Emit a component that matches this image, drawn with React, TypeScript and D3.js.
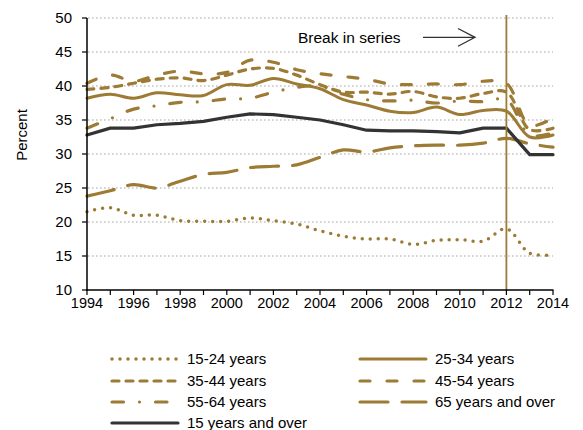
import React from 'react';
import * as d3 from 'd3';

const years = [1994, 1995, 1996, 1997, 1998, 1999, 2000, 2001, 2002, 2003, 2004, 2005, 2006, 2007, 2008, 2009, 2010, 2011, 2012, 2013, 2014];
const s15_24 = [21.5, 22.1, 21.0, 21.0, 20.2, 20.1, 20.1, 20.6, 20.2, 19.7, 18.7, 17.9, 17.5, 17.5, 16.7, 17.3, 17.4, 17.2, 19.0, 15.4, 15.2];
const s25_34 = [38.2, 38.8, 38.2, 39.0, 38.7, 38.6, 40.2, 40.1, 41.1, 40.3, 39.6, 38.0, 37.2, 36.3, 36.1, 36.9, 35.8, 36.4, 36.3, 32.5, 32.8];
const s35_44 = [39.5, 39.8, 40.4, 41.0, 41.2, 40.8, 41.6, 42.5, 42.6, 41.6, 40.2, 39.1, 39.1, 38.8, 39.2, 38.4, 38.2, 38.9, 39.1, 33.6, 33.8];
const s45_54 = [40.4, 41.6, 40.7, 41.6, 42.2, 41.8, 42.0, 43.8, 43.5, 42.4, 41.8, 41.4, 41.0, 40.3, 40.2, 40.3, 40.2, 40.7, 40.4, 34.2, 35.3];
const s55_64 = [33.8, 35.2, 36.6, 37.1, 37.6, 37.7, 38.1, 38.2, 39.1, 39.8, 40.0, 38.8, 38.0, 37.8, 37.9, 37.5, 37.8, 37.7, 38.0, 32.8, 33.1];
const s65plus = [23.8, 24.6, 25.5, 25.0, 26.0, 27.0, 27.3, 28.0, 28.2, 28.4, 29.5, 30.6, 30.3, 30.9, 31.2, 31.3, 31.3, 31.6, 32.3, 31.5, 31.0];
const s15plus = [32.8, 33.8, 33.8, 34.3, 34.5, 34.8, 35.4, 35.9, 35.8, 35.4, 35.0, 34.3, 33.5, 33.4, 33.4, 33.3, 33.1, 33.8, 33.8, 29.9, 29.9];

const yTicks = [10, 15, 20, 25, 30, 35, 40, 45, 50];
const xLabels = [1994, 1996, 1998, 2000, 2002, 2004, 2006, 2008, 2010, 2012, 2014];
const breakYear = 2012;

const GOLD = '#9E7B35';
const DARK = '#333333';

type S = { name: string; values: number[]; color: string; dash: string; width: number; smooth: boolean };
const series: S[] = [
  { name: '15-24 years', values: s15_24, color: GOLD, dash: '0 8', width: 3.5, smooth: true },
  { name: '25-34 years', values: s25_34, color: GOLD, dash: '', width: 3, smooth: true },
  { name: '35-44 years', values: s35_44, color: GOLD, dash: '7 7', width: 3.2, smooth: true },
  { name: '45-54 years', values: s45_54, color: GOLD, dash: '10 17', width: 3.2, smooth: true },
  { name: '55-64 years', values: s55_64, color: GOLD, dash: '11.5 16 0 16', width: 3.2, smooth: true },
  { name: '65 years and over', values: s65plus, color: GOLD, dash: '28 14', width: 3.2, smooth: true },
  { name: '15 years and over', values: s15plus, color: DARK, dash: '', width: 3.2, smooth: false },
];

const FONT = 'Liberation Sans, Arial, sans-serif';

export default function App() {
  const x = d3.scaleLinear().domain([1994, 2014]).range([87, 553]);
  const y = d3.scaleLinear().domain([10, 50]).range([290, 18]);
  const allYears = d3.range(1994, 2015);

  const legendPos = [
    [112, 359], [360, 359],
    [112, 381], [360, 381],
    [112, 402], [360, 402],
    [112, 423],
  ];

  return (
    <svg width={583} height={430} style={{ position: 'absolute', left: 0, top: 0, background: '#fff' }} fontFamily={FONT}>
      {/* gridlines */}
      {yTicks.filter(t => t > 10).map(t => (
        <line key={t} x1={88} x2={553} y1={y(t)} y2={y(t)} stroke="#A6A6A6" strokeWidth={1.2} strokeDasharray="1.6 2.4" />
      ))}
      {/* series */}
      {series.map(s => {
        const line = d3.line<number>()
          .x((_, i) => x(years[i]))
          .y(v => y(v))
          .curve(s.smooth ? d3.curveCatmullRom.alpha(0.5) : d3.curveLinear);
        return (
          <path key={s.name} d={line(s.values) || ''} fill="none" stroke={s.color} strokeWidth={s.width}
            strokeDasharray={s.dash || undefined} strokeLinecap="round" strokeLinejoin="round" />
        );
      })}
      {/* break line */}
      <line x1={x(breakYear)} x2={x(breakYear)} y1={15} y2={290} stroke={GOLD} strokeWidth={1.8} />
      {/* axes */}
      <line x1={87} x2={87} y1={18} y2={291} stroke="#000" strokeWidth={1.5} />
      <line x1={86} x2={553.5} y1={290} y2={290} stroke="#000" strokeWidth={1.5} />
      {yTicks.map(t => (
        <g key={t}>
          <line x1={82} x2={87} y1={y(t)} y2={y(t)} stroke="#000" strokeWidth={1.2} />
          <text x={72} y={y(t)} dy="0.36em" textAnchor="end" fontSize={15} fill="#000">{t}</text>
        </g>
      ))}
      {allYears.map(yr => (
        <line key={yr} x1={x(yr)} x2={x(yr)} y1={290} y2={295} stroke="#000" strokeWidth={1.2} />
      ))}
      {xLabels.map(yr => (
        <text key={yr} x={x(yr)} y={308} textAnchor="middle" fontSize={14.5} fill="#000">{yr}</text>
      ))}
      <text transform="translate(27,135) rotate(-90)" textAnchor="middle" fontSize={15} fill="#000">Percent</text>
      {/* annotation */}
      <text x={298} y={43} fontSize={15.5} fill="#000">Break in series</text>
      <g stroke={DARK} strokeWidth={1.3} fill="none">
        <line x1={423} x2={475} y1={37.3} y2={37.3} />
        <polyline points="458,28.5 475,37.3 458,46.3" />
      </g>
      {/* legend */}
      {series.map((s, i) => {
        const [lx, ly] = legendPos[i];
        return (
          <g key={s.name}>
            <line x1={lx} x2={lx + 66} y1={ly} y2={ly} stroke={s.color} strokeWidth={s.width}
              strokeDasharray={s.dash || undefined} strokeLinecap="round" />
            <text x={lx + 75} y={ly} dy="0.36em" fontSize={15} fill="#000">{s.name}</text>
          </g>
        );
      })}
    </svg>
  );
}
